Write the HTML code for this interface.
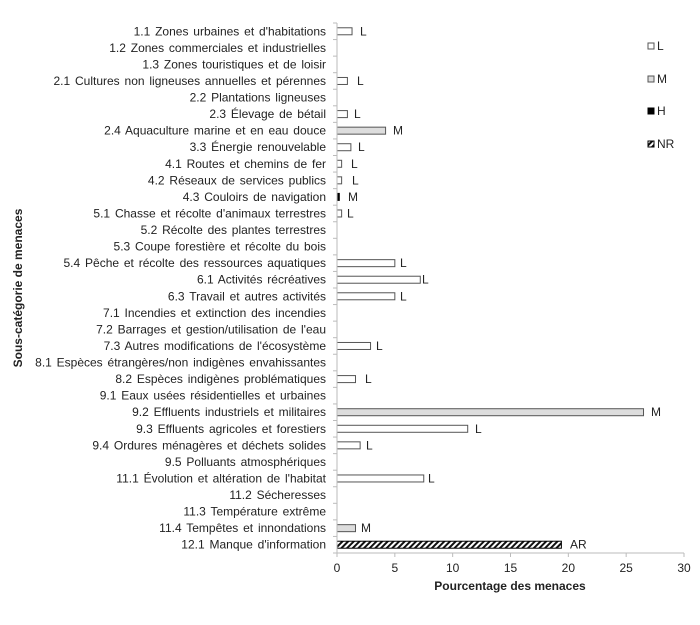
<!DOCTYPE html>
<html><head><meta charset="utf-8"><style>
body{margin:0;background:#fff;width:700px;height:620px;overflow:hidden}
svg text{font-family:"Liberation Sans",Arial,sans-serif;fill:#222}
</style></head><body>
<svg width="700" height="620" viewBox="0 0 700 620" xmlns="http://www.w3.org/2000/svg">
<defs>
<pattern id="hatch" width="4" height="4" patternUnits="userSpaceOnUse" patternTransform="rotate(45)">
<rect width="4" height="4" fill="#fff"/><rect width="2" height="4" fill="#111"/>
</pattern>
</defs>
<g font-size="12" word-spacing="1.5" text-anchor="end" id="labels"></g>
<g id="bars"></g>
<line x1="337" y1="23" x2="337" y2="553" stroke="#bbb" stroke-width="1"/>
<line x1="337" y1="553" x2="684" y2="553" stroke="#bbb" stroke-width="1"/>
<g id="ticks" stroke="#bbb"></g>
<g font-size="12" text-anchor="middle" id="xt"></g>
<text x="510" y="590" font-size="12" font-weight="bold" text-anchor="middle">Pourcentage des menaces</text>
<text transform="translate(22,288) rotate(-90)" font-size="12" font-weight="bold" text-anchor="middle">Sous-catégorie de menaces</text>
<g font-size="12">
<rect x="648" y="43" width="6" height="6" fill="#fff" stroke="#555"/><text x="657" y="50">L</text>
<rect x="648" y="76" width="6" height="6" fill="#ddd" stroke="#555"/><text x="657" y="83">M</text>
<rect x="648" y="108" width="6" height="6" fill="#000" stroke="#000"/><text x="657" y="115">H</text>
<rect x="648" y="141" width="6" height="6" fill="url(#hatch)" stroke="#000"/><text x="657" y="148">NR</text>
</g>
</svg>
<script>
(function(){
var cats=["1.1 Zones urbaines et d'habitations","1.2 Zones commerciales et industrielles","1.3 Zones touristiques et de loisir","2.1 Cultures  non ligneuses annuelles et pérennes","2.2 Plantations ligneuses","2.3 Élevage de bétail","2.4 Aquaculture marine et en eau douce","3.3 Énergie renouvelable","4.1 Routes et chemins de fer","4.2 Réseaux de services publics","4.3 Couloirs de navigation","5.1 Chasse et récolte d'animaux terrestres","5.2 Récolte des plantes terrestres","5.3 Coupe forestière et récolte du bois","5.4 Pêche et récolte des ressources aquatiques","6.1 Activités récréatives","6.3 Travail et autres activités","7.1 Incendies et extinction des incendies","7.2 Barrages et gestion/utilisation de l'eau","7.3 Autres modifications de l'écosystème","8.1 Espèces étrangères/non indigènes envahissantes","8.2 Espèces indigènes problématiques","9.1 Eaux usées résidentielles et urbaines","9.2 Effluents industriels et militaires","9.3 Effluents agricoles et forestiers","9.4 Ordures ménagères et déchets solides","9.5 Polluants atmosphériques","11.1 Évolution et altération de l'habitat","11.2 Sécheresses","11.3 Température extrême","11.4 Tempêtes et innondations","12.1 Manque d'information"];
var vals={0:[1.3,'L',360],3:[0.9,'L',357],5:[0.9,'L',354],6:[4.2,'M',393],7:[1.2,'L',358],8:[0.4,'L',351],9:[0.4,'L',352],10:[0.2,'M',348,'H'],11:[0.4,'L',347],14:[5.0,'L',400],15:[7.2,'L',422],16:[5.0,'L',400],19:[2.9,'L',376],21:[1.6,'L',365],23:[26.5,'M',651],24:[11.3,'L',475],25:[2.0,'L',366],27:[7.5,'L',428],30:[1.6,'M',361],31:[19.4,'AR',570,'NR']};
var ns="http://www.w3.org/2000/svg";
function el(t,a,p,txt){var e=document.createElementNS(ns,t);for(var k in a)e.setAttribute(k,a[k]);if(txt!=null)e.textContent=txt;document.getElementById(p).appendChild(e);return e;}
var x0=337,sx=(684-337)/30,y0=23,h=(553-23)/32;
cats.forEach(function(c,i){var y=y0+h*(i+0.5);
el('text',{x:326,y:y+4},'labels',c);
el('line',{x1:333,y1:y0+h*i,x2:337,y2:y0+h*i},'ticks');
var v=vals[i];if(v){var w=v[0]*sx;var fill=v[1]==='M'?'#ddd':'#fff',st='#555';
if(v[3]==='H'){fill='#000';st='#000';}if(v[3]==='NR'){fill='url(#hatch)';st='#000';}
el('rect',{x:x0,y:y-3.5,width:w,height:7,fill:fill,stroke:st,'stroke-width':1},'bars');
el('text',{x:v[2],y:y+4,'font-size':12},'bars',v[1]);}
});
el('line',{x1:333,y1:553,x2:337,y2:553},'ticks');
for(var t=0;t<=30;t+=5){var x=x0+t*sx;el('line',{x1:x,y1:553,x2:x,y2:557},'ticks');el('text',{x:x,y:572},'xt',String(t));}
})();
</script>
</body></html>
